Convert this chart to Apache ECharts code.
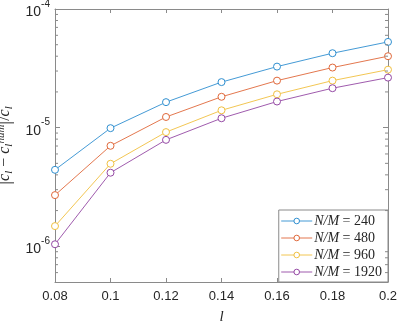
<!DOCTYPE html>
<html>
<head>
<meta charset="utf-8">
<script src="https://cdn.jsdelivr.net/npm/echarts@6/dist/echarts.min.js"></script>
<style>
  html, body { margin: 0; padding: 0; background: #fff; }
  #chart { width: 399px; height: 321px; }
</style>
</head>
<body>
<div id="chart"></div>
<script>
// sample lengths l
const lValues = [0.08, 0.1, 0.12, 0.14, 0.16, 0.18, 0.2];

// relative error |c_l - c_l^num| / c_l for each N/M
const err240 = [4.41e-6, 9.9e-6, 1.64e-5, 2.42e-5, 3.27e-5, 4.24e-5, 5.28e-5];
const err480 = [2.70e-6, 7.03e-6, 1.23e-5, 1.82e-5, 2.49e-5, 3.21e-5, 4.0e-5];
const err960 = [1.48e-6, 4.96e-6, 9.17e-6, 1.40e-5, 1.91e-5, 2.49e-5, 3.08e-5];
const err1920 = [1.04e-6, 4.17e-6, 7.89e-6, 1.20e-5, 1.66e-5, 2.15e-5, 2.64e-5];

const seriesNames = ["N/M = 240", "N/M = 480", "N/M = 960", "N/M = 1920"];
const seriesData = [err240, err480, err960, err1920];
const colors = ["#2f8fd0", "#e0683a", "#f0c040", "#9448a4"];

// log-axis minor ticks
const minorTicks = [
  6e-7, 7e-7, 8e-7, 9e-7,
  2e-6, 3e-6, 4e-6, 5e-6, 6e-6, 7e-6, 8e-6, 9e-6,
  2e-5, 3e-5, 4e-5, 5e-5, 6e-5, 7e-5, 8e-5, 9e-5,
];

const xMin = 0.08, xMax = 0.2;
const yMin = 5e-7, yMax = 1e-4;
const axisColor = "#8a8a8a";
const textColor = "#262626";
const sansFont = "Liberation Sans";
const serifFont = "Liberation Serif";

const chart = echarts.init(document.getElementById("chart"), null, { renderer: "canvas" });

function powLabel(v) {
  const e = Math.log10(v);
  if (Math.abs(e - Math.round(e)) > 1e-6) return "";
  return "{b|10}{s|" + Math.round(e) + "}";
}

const xCommon = {
  type: "value",
  min: xMin,
  max: xMax,
  interval: 0.02,
  axisLine: { show: true, lineStyle: { color: axisColor, width: 1 } },
  axisTick: { show: true, inside: true, length: 4, lineStyle: { color: axisColor } },
  splitLine: { show: false },
};

const yCommon = {
  type: "log",
  logBase: 10,
  min: yMin,
  max: yMax,
  axisLine: { show: true, lineStyle: { color: axisColor, width: 1 } },
  axisTick: { show: true, inside: true, length: 5, lineStyle: { color: axisColor } },
  splitLine: { show: false },
};

const lineSeries = seriesData.map((vals, i) => ({
  name: seriesNames[i],
  type: "line",
  data: lValues.map((l, j) => [l, vals[j]]),
  symbol: "circle",
  symbolSize: 7,
  lineStyle: { color: colors[i], width: 0.9 },
  itemStyle: { color: "#fff", borderColor: colors[i], borderWidth: 1 },
  emphasis: { disabled: true },
  z: 3,
}));

chart.setOption({
  animation: false,
  backgroundColor: "#fff",
  grid: { left: 55, right: 11, top: 9, bottom: 39, containLabel: false, outerBoundsMode: "none" },
  xAxis: [
    Object.assign({}, xCommon, {
      position: "bottom",
      name: "l",
      nameLocation: "middle",
      nameGap: 28,
      nameTextStyle: { fontFamily: serifFont, fontStyle: "italic", fontSize: 15, color: textColor },
      axisLabel: { color: textColor, fontFamily: sansFont, fontSize: 13, margin: 8 },
    }),
    Object.assign({}, xCommon, { position: "top", axisLabel: { show: false } }),
  ],
  yAxis: [
    Object.assign({}, yCommon, {
      position: "left",
      name: "{bar||}{v|c}{sub|l}{op| − }{v|c}{sub|l}{sup|num}{bar||}{op|/}{v|c}{sub|l}",
      nameLocation: "middle",
      nameRotate: 90,
      nameGap: 35,
      nameTextStyle: {
        color: textColor,
        rich: {
          bar: { fontFamily: serifFont, fontSize: 19, color: textColor },
          v: { fontFamily: serifFont, fontStyle: "italic", fontSize: 16, color: textColor },
          sub: { fontFamily: serifFont, fontStyle: "italic", fontSize: 11, color: textColor, verticalAlign: "bottom" },
          sup: { fontFamily: serifFont, fontStyle: "italic", fontSize: 11, color: textColor, verticalAlign: "top" },
          op: { fontFamily: serifFont, fontSize: 16, color: textColor },
        },
      },
      axisLabel: {
        margin: 5,
        formatter: powLabel,
        rich: {
          b: { fontFamily: sansFont, fontSize: 14, color: textColor, lineHeight: 20, verticalAlign: "bottom" },
          s: { fontFamily: sansFont, fontSize: 10, color: textColor, verticalAlign: "top", lineHeight: 20 },
        },
      },
    }),
    Object.assign({}, yCommon, { position: "right", axisLabel: { show: false } }),
  ],
  legend: {
    right: 11,
    bottom: 39,
    orient: "vertical",
    itemWidth: 31,
    itemHeight: 7,
    itemGap: 3,
    padding: [4, 6, 3, 2],
    backgroundColor: "#fff",
    borderColor: axisColor,
    borderWidth: 1,
    borderRadius: 0,
    data: seriesNames,
    itemStyle: { color: "#fff", borderWidth: 1 },
    lineStyle: { width: 0.9 },
    formatter: (name) => {
      const parts = name.split(" = ");
      return "{i|" + parts[0] + "}{r| = " + parts[1] + "}";
    },
    textStyle: {
      padding: [0, 0, 0, -3],
      rich: {
        i: { fontFamily: serifFont, fontStyle: "italic", fontSize: 14, color: textColor },
        r: { fontFamily: serifFont, fontSize: 14, color: textColor },
      },
    },
    selectedMode: false,
  },
  series: lineSeries.concat([{
    type: "custom",
    silent: true,
    z: 5,
    data: minorTicks.map((v) => [xMin, v]),
    renderItem: (params, api) => {
      const v = api.value(1);
      const a = api.coord([xMin, v]);
      const b = api.coord([xMax, v]);
      return {
        type: "group",
        children: [
          { type: "line", shape: { x1: a[0], y1: a[1], x2: a[0] + 3, y2: a[1] }, style: { stroke: axisColor, lineWidth: 1 } },
          { type: "line", shape: { x1: b[0], y1: b[1], x2: b[0] - 3, y2: b[1] }, style: { stroke: axisColor, lineWidth: 1 } },
        ],
      };
    },
  }]),
});
</script>
</body>
</html>
